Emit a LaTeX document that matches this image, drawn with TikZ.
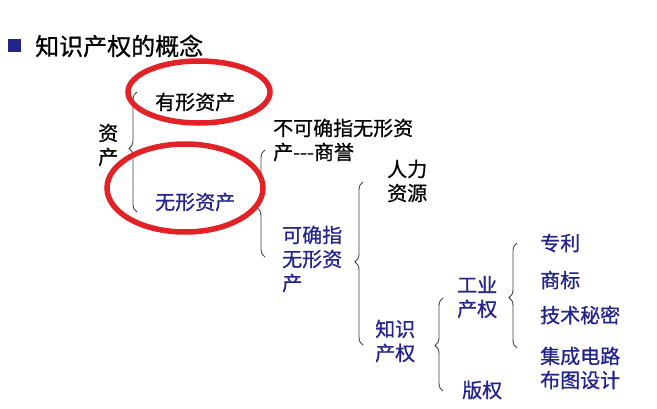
\documentclass[tikz,border=0pt]{standalone}
\usepackage{fontspec}
\newfontfamily\cjk[FakeBold=0.8]{Noto Sans CJK SC}
\usetikzlibrary{decorations.pathreplacing}
\definecolor{navy}{RGB}{35,35,140}
\definecolor{ringred}{RGB}{225,35,40}
\tikzset{
  zh/.style={font=\cjk\fontsize{20}{24}\selectfont, anchor=west, inner sep=0pt, align=left},
  bk/.style={zh, text=black},
  bl/.style={zh, text=navy},
  brc/.style={draw=black!75, line width=0.9pt, decorate, decoration={brace, amplitude=8pt, aspect=#1}},
  brc/.default=0.5,
  ring/.style={draw=ringred, line width=5.5pt}
}
\begin{document}
\begin{tikzpicture}[x=1pt,y=-1pt]
\useasboundingbox (0,0) rectangle (657,408);

\node[fill=navy, minimum size=13pt, inner sep=0pt] (bullet) at (14.5,45.5) {};
\node[font=\cjk\fontsize{24}{28}\selectfont, anchor=west, inner sep=0pt] (title) at (35,46) {知识产权的概念};

\node[bk] (zc) at (98,145) {资\\产};
\node[bk] (yx) at (155,102) {有形资产};
\node[bl] (wx) at (155,202) {无形资产};
\node[bk] (bk) at (273,140) {不可确指无形资\\产-{}-{}-商誉};
\node[bl] (kq) at (282,259) {可确指\\无形资\\产};
\node[bk] (rl) at (387,181) {人力\\资源};
\node[bl] (zs) at (375,341) {知识\\产权};
\node[bl] (gy) at (457,297) {工业\\产权};
\node[bl] (bq) at (462,390) {版权};
\node[bl] (zl) at (540,243) {专利};
\node[bl] (sb) at (540,280) {商标};
\node[bl] (js) at (540,315) {技术秘密};
\node[bl] (jc) at (540,368) {集成电路\\布图设计};

% brace ends
\coordinate (zc-b) at (137,212);
\coordinate (zc-t) at (137,92);
\coordinate (wx-b) at (265,257);
\coordinate (wx-t) at (265,150);
\coordinate (kq-b) at (363,345);
\coordinate (kq-t) at (363,182);
\coordinate (zs-b) at (443,391);
\coordinate (zs-t) at (443,298);
\coordinate (gy-b) at (517,348);
\coordinate (gy-t) at (517,243);

\draw[brc=0.53] (zc-b) -- (zc-t);
\draw[brc=0.46] (wx-b) -- (wx-t);
\draw[brc=0.51] (kq-b) -- (kq-t);
\draw[brc=0.49] (zs-b) -- (zs-t);
\draw[brc=0.48] (gy-b) -- (gy-t);

% red rings
\draw[ring] (199,92) ellipse [x radius=71pt, y radius=31pt];
\draw[ring] (185,188) ellipse [x radius=78pt, y radius=44pt];
\end{tikzpicture}
\end{document}
